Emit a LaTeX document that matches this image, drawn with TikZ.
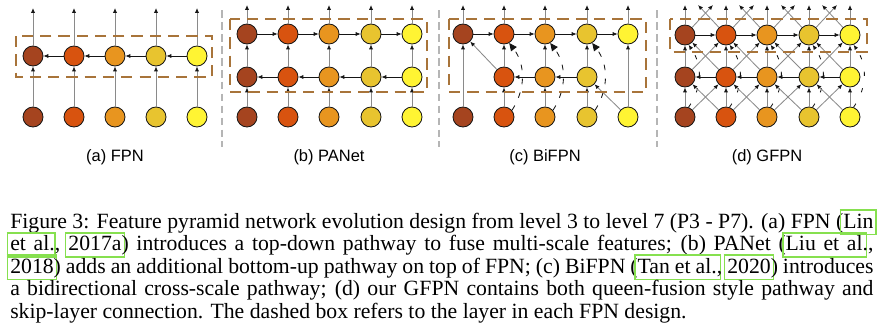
\documentclass[tikz,border=0pt]{standalone}
\usepackage{fontspec}
\setmainfont{Liberation Serif}
\setsansfont{Liberation Sans}
\usepackage{xcolor}
\usetikzlibrary{arrows.meta}
\definecolor{ink}{HTML}{151515}
\definecolor{linegray}{HTML}{8A8A8A}
\definecolor{boxbrown}{HTML}{A8743A}
\definecolor{divgray}{HTML}{B5B5B5}
\definecolor{linkgreen}{HTML}{86E04F}
\definecolor{p3}{HTML}{A5441F}
\definecolor{p4}{HTML}{D8530F}
\definecolor{p5}{HTML}{E8951F}
\definecolor{p6}{HTML}{E8C42F}
\definecolor{p7}{HTML}{FFF433}

\newcommand\linkbox[1]{\leavevmode\rlap{\kern-2.6pt\textcolor{linkgreen}{\setlength\fboxsep{0pt}\setlength\fboxrule{1.2pt}\fbox{\kern1.4pt\phantom{#1}\kern1.4pt\rule[-4pt]{0pt}{16pt}}}}#1}

\begin{document}
\begin{tikzpicture}[
    x=0.025cm, y=-0.025cm,
    feat/.style={circle, draw=ink, line width=0.6pt, minimum size=0.5cm, inner sep=0pt},
    link/.style={draw=linegray, line width=0.6pt, -{Latex[length=3.5pt,width=3pt,color=ink]}},
    flow/.style={draw=ink, line width=0.5pt, -{Latex[length=3.5pt,width=3pt]}},
    skiplink/.style={draw=ink, line width=0.6pt, dash pattern=on 4pt off 6pt, -{Triangle[length=5.5pt,width=5pt]}},
    gskip/.style={draw=ink, line width=0.6pt, dash pattern=on 3pt off 9pt, -{Latex[length=3.5pt,width=3pt]}},
    layerbox/.style={draw=boxbrown, line width=1.9pt, dash pattern=on 8pt off 5pt},
    divider/.style={draw=divgray, line width=1.1pt, dash pattern=on 5.5pt off 3pt},
    sublabel/.style={font=\sffamily\fontsize{11.7}{14}\selectfont, anchor=base, inner sep=0pt},
    capline/.style={font=\fontsize{15.45}{18}\selectfont, anchor=base west, inner sep=0pt}
]
\useasboundingbox (0,0) rectangle (881,332);

% (a) FPN: top-down pathway only.
\foreach \l/\x in {3/33,4/74,5/115,6/156,7/197} {
    \node[feat, fill=p\l] (a-in\l) at (\x,117) {};
    \node[feat, fill=p\l] (a-top\l) at (\x,56) {};
    \coordinate (a-out\l) at (\x,8);
    \draw[link] (a-in\l) -- (a-top\l);
    \draw[link] (a-top\l) -- (a-out\l);
}
\foreach \l/\n in {4/3,5/4,6/5,7/6}
    \draw[flow] (a-top\l) -- (a-top\n);
\draw[layerbox] (16,36) rectangle (212,77);

% (b) PANet: top-down, then bottom-up.
\foreach \l/\x in {3/247,4/288,5/329,6/371,7/412} {
    \node[feat, fill=p\l] (b-in\l) at (\x,117) {};
    \node[feat, fill=p\l] (b-mid\l) at (\x,77) {};
    \node[feat, fill=p\l] (b-top\l) at (\x,34) {};
    \coordinate (b-out\l) at (\x,5);
    \draw[link] (b-in\l) -- (b-mid\l);
    \draw[link] (b-mid\l) -- (b-top\l);
    \draw[link] (b-top\l) -- (b-out\l);
}
\foreach \l/\n in {4/3,5/4,6/5,7/6} {
    \draw[flow] (b-mid\l) -- (b-mid\n);
    \draw[flow] (b-top\n) -- (b-top\l);
}
\draw[layerbox] (230,19) rectangle (427,92);

% (c) BiFPN: cross-scale with same-level skips.
\foreach \l/\x in {3/463,4/504,5/545,6/587,7/628} {
    \node[feat, fill=p\l] (c-in\l) at (\x,117) {};
    \node[feat, fill=p\l] (c-top\l) at (\x,34) {};
    \coordinate (c-out\l) at (\x,5);
    \draw[link] (c-top\l) -- (c-out\l);
}
\foreach \l/\x in {4/504,5/545,6/587} {
    \node[feat, fill=p\l] (c-mid\l) at (\x,77) {};
    \draw[link] (c-in\l) -- (c-mid\l);
    \draw[link] (c-mid\l) -- (c-top\l);
    \draw[skiplink] (c-in\l.40) to[bend right=35] (c-top\l.-60);
}
\draw[link] (c-in3) -- (c-top3);
\draw[link] (c-in7) -- (c-top7);
\draw[link] (c-in7) -- (c-mid6);
\draw[link] (c-mid4) -- (c-top3);
\draw[flow] (c-mid6) -- (c-mid5);
\draw[flow] (c-mid5) -- (c-mid4);
\foreach \l/\n in {3/4,4/5,5/6,6/7}
    \draw[flow] (c-top\l) -- (c-top\n);
\draw[layerbox] (449,19) rectangle (646,92);

% (d) GFPN: queen-fusion plus skip-layer.
\foreach \l/\x in {3/685,4/726,5/767,6/809,7/850} {
    \node[feat, fill=p\l] (d-in\l) at (\x,117) {};
    \node[feat, fill=p\l] (d-mid\l) at (\x,77) {};
    \node[feat, fill=p\l] (d-top\l) at (\x,35) {};
    \coordinate (d-out\l) at (\x,5);
    \coordinate (d-outl\l) at (\x-28,5);
    \coordinate (d-outr\l) at (\x+28,5);
    \draw[link] (d-in\l) -- (d-mid\l);
    \draw[link] (d-mid\l) -- (d-top\l);
    \draw[link] (d-top\l) -- (d-out\l);
    \draw[gskip] (d-in\l.70) to[bend right=35] (d-top\l.-70);
}
\foreach \l/\n in {3/4,4/5,5/6,6/7} {
    \draw[link] (d-in\l) -- (d-mid\n);
    \draw[link] (d-in\n) -- (d-mid\l);
    \draw[link] (d-mid\l) -- (d-top\n);
    \draw[link] (d-mid\n) -- (d-top\l);
    \draw[link] (d-top\l) -- (d-outr\l);
    \draw[link] (d-top\n) -- (d-outl\n);
    \draw[flow] (d-top\l) -- (d-top\n);
    \draw[flow] (d-mid\n) -- (d-mid\l);
}
\draw[layerbox] (670,19) rectangle (867,52);

\foreach \x in {222,439,657}
    \draw[divider] (\x,10) -- (\x,147);

\node[sublabel] (lab-a) at (115,161) {(a) FPN};
\node[sublabel] (lab-b) at (329,161) {(b) PANet};
\node[sublabel] (lab-c) at (545,161) {(c) BiFPN};
\node[sublabel] (lab-d) at (767,161) {(d) GFPN};

% Caption, one justified line per node.
\node[capline] (cap1) at (10,228) {\makebox[21.575cm][s]{Figure 3: Feature pyramid network evolution design from level 3 to level 7 (P3 - P7). (a) FPN (\linkbox{Lin}}};
\node[capline] (cap2) at (10,250.5) {\makebox[21.575cm][s]{\linkbox{et al.}, \linkbox{2017a}) introduces a top-down pathway to fuse multi-scale features; (b) PANet (\linkbox{Liu et al.},}};
\node[capline] (cap3) at (10,273) {\makebox[21.575cm][s]{\linkbox{2018}) adds an additional bottom-up pathway on top of FPN; (c) BiFPN (\linkbox{Tan et al.}, \linkbox{2020}) introduces}};
\node[capline] (cap4) at (10,295.5) {\makebox[21.575cm][s]{a bidirectional cross-scale pathway; (d) our GFPN contains both queen-fusion style pathway and}};
\node[capline] (cap5) at (10,318) {skip-layer connection. The dashed box refers to the layer in each FPN design.};
\end{tikzpicture}
\end{document}
